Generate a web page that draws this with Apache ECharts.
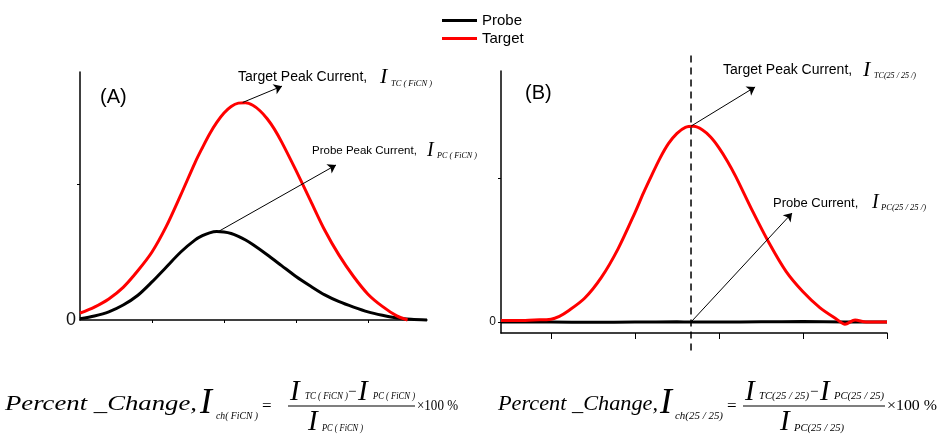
<!DOCTYPE html>
<html>
<head>
<meta charset="utf-8">
<script src="https://cdn.jsdelivr.net/npm/echarts@6/dist/echarts.min.js"></script>
<style>
  html, body { margin: 0; padding: 0; background: #fff; }
  #chart { width: 946px; height: 436px; }
</style>
</head>
<body>
<div id="chart"></div>
<script>
// ---- Panel (A): FiCN sweep, probe vs target current ----
const aTargetX = [0, 0.2, 0.4, 0.6, 0.8, 1.0, 1.2, 1.4, 1.6, 1.7, 1.8, 1.9, 2.0, 2.1, 2.2, 2.3, 2.4, 2.5, 2.6, 2.7, 2.8, 3.0, 3.2, 3.4, 3.6, 3.8, 4.0, 4.2, 4.4, 4.55];
const aTargetY = [0.05, 0.095, 0.155, 0.24, 0.36, 0.50, 0.69, 0.92, 1.16, 1.267, 1.368, 1.453, 1.522, 1.570, 1.595, 1.598, 1.579, 1.539, 1.48, 1.404, 1.31, 1.10, 0.88, 0.66, 0.475, 0.32, 0.19, 0.10, 0.03, 0];
const aProbeX = [0, 0.2, 0.4, 0.6, 0.8, 1.0, 1.2, 1.4, 1.6, 1.7, 1.8, 1.9, 2.0, 2.1, 2.2, 2.3, 2.4, 2.6, 2.8, 3.0, 3.2, 3.4, 3.6, 3.8, 4.0, 4.2, 4.4, 4.6, 4.82];
const aProbeY = [0.01, 0.03, 0.06, 0.11, 0.18, 0.28, 0.39, 0.50, 0.589, 0.620, 0.641, 0.650, 0.647, 0.636, 0.615, 0.588, 0.555, 0.48, 0.40, 0.32, 0.25, 0.185, 0.135, 0.095, 0.06, 0.035, 0.015, 0.005, 0];

// ---- Panel (B): 25/25 sweep ----
const bTargetX = [0.405, 0.6, 0.8, 1.0, 1.1, 1.2, 1.4, 1.6, 1.8, 2.0, 2.1, 2.2, 2.3, 2.4, 2.5, 2.6, 2.7, 2.8, 2.9, 3.0, 3.1, 3.2, 3.4, 3.6, 3.8, 4.0, 4.2, 4.4, 4.5, 4.62, 4.75, 5.0];
const bTargetY = [0.01, 0.01, 0.015, 0.02, 0.04, 0.075, 0.165, 0.31, 0.51, 0.76, 0.895, 1.02, 1.14, 1.24, 1.31, 1.352, 1.359, 1.335, 1.285, 1.21, 1.117, 1.01, 0.77, 0.545, 0.35, 0.21, 0.10, 0.02, -0.015, 0.015, 0.0, 0.0];
const bProbeX = [0.405, 1.0, 1.5, 2.0, 2.5, 2.667, 3.0, 3.5, 4.0, 4.5, 5.0];
const bProbeY = [0.0, 0.0, -0.002, 0.0, 0.002, 0.0, 0.0, 0.002, 0.003, 0.0, 0.0];

// Tick positions and labels
const aXTicks = [1, 2, 3, 4];
const aYTicks = [1];
const bXTicks = [1, 2, 3, 4, 5];
const bYTicks = [0, 1];
const yLabels = [0];

const SANS = '"Liberation Sans", Arial, sans-serif';
const SERIF = '"Liberation Serif", "Times New Roman", serif';
const RED = '#ff0000';
const BLACK = '#000000';

const chart = echarts.init(document.getElementById('chart'), null, { renderer: 'canvas' });

function curve(name, xs, ys, color, idx, markLine, z) {
  return {
    type: 'line', name: name, xAxisIndex: idx, yAxisIndex: idx,
    data: xs.map((x, i) => [x, ys[i]]),
    symbol: 'none', smooth: 0.3, clip: false, z: z,
    lineStyle: { color: color, width: 3 }, itemStyle: { color: color },
    emphasis: { disabled: true }, silent: true, animation: false,
    markLine: markLine
  };
}

function arrow(from, to) {
  return {
    silent: true, animation: false,
    symbol: ['none', 'arrow'], symbolSize: 8,
    lineStyle: { color: BLACK, width: 1, type: 'solid' },
    label: { show: false }, emphasis: { disabled: true },
    data: [[{ coord: from }, { coord: to }]]
  };
}

function axisX(idx, min, max, ticks, tickLen) {
  return {
    gridIndex: idx, type: 'value', min: min, max: max,
    axisLine: { show: true, onZero: false, lineStyle: { color: BLACK, width: 1.5 } },
    axisTick: { show: true, customValues: ticks, length: tickLen, lineStyle: { color: BLACK, width: 1 } },
    axisLabel: { show: false }, splitLine: { show: false }
  };
}

function axisY(idx, min, max, ticks, labelSize, margin) {
  return {
    gridIndex: idx, type: 'value', min: min, max: max,
    axisLine: { show: true, onZero: false, lineStyle: { color: BLACK, width: 1.5 } },
    axisTick: { show: true, customValues: ticks, length: 3, lineStyle: { color: BLACK, width: 1 } },
    axisLabel: { show: true, customValues: yLabels, fontSize: labelSize, color: '#111', fontFamily: SANS, margin: margin },
    splitLine: { show: false }
  };
}

const aPeakT = [2.26, 1.60], aPeakP = [1.92, 0.65];
const bPeakT = [2.667, 1.36], bProbeAt = [2.667, 0];

chart.setOption({
  animation: false,
  textStyle: { fontFamily: SANS },
  legend: {
    data: ['Probe', 'Target'], orient: 'vertical', left: 437, top: 8,
    icon: 'rect', itemWidth: 35, itemHeight: 3, itemGap: 3,
    textStyle: { fontSize: 15, color: BLACK, fontFamily: SANS },
    selectedMode: false
  },
  grid: [
    { left: 80, top: 72, width: 347, height: 248 },
    { left: 501, top: 71, width: 386, height: 262 }
  ],
  xAxis: [
    axisX(0, 0, 4.82, aXTicks, 3),
    axisX(1, 0.405, 5.0, bXTicks, 6)
  ],
  yAxis: [
    axisY(0, 0, 1.824, aYTicks, 18, 4),
    axisY(1, -0.076, 1.743, bYTicks, 12, 5)
  ],
  series: [
    curve('Probe', aProbeX, aProbeY, BLACK, 0, arrow(aPeakP, [3.556, 1.14]), 2),
    curve('Target', aTargetX, aTargetY, RED, 0, arrow(aPeakT, [2.806, 1.72]), 3),
    curve('Probe', bProbeX, bProbeY, BLACK, 1, arrow(bProbeAt, [3.87, 0.757]), 2),
    curve('Target', bTargetX, bTargetY, RED, 1, arrow(bPeakT, [3.43, 1.632]), 3)
  ]
});

// ---- Text annotations and formulas ----
const ctx = document.createElement('canvas').getContext('2d');
function txt(text, x, y, size, o) {
  o = o || {};
  const fam = o.family || SERIF;
  const font = (o.italic === false ? 'normal ' : 'italic ') + size + 'px ' + fam;
  let sx = 1;
  if (o.width) { ctx.font = font; sx = o.width / ctx.measureText(text).width; }
  return {
    type: 'text', x: x, y: y, scaleX: sx, silent: true, z: 20,
    style: { text: text, x: 0, y: 0, font: font, fill: BLACK,
             align: 'left', verticalAlign: 'middle', textAlign: 'left', textVerticalAlign: 'middle' }
  };
}
function sans(text, x, y, size) { return txt(text, x, y, size, { family: SANS, italic: false }); }
function hline(x1, x2, y, w) {
  return { type: 'line', silent: true, z: 20, shape: { x1: x1, y1: y, x2: x2, y2: y }, style: { stroke: BLACK, lineWidth: w } };
}

const bx = chart.convertToPixel({ xAxisIndex: 1 }, bPeakT[0]);
const yTop = chart.convertToPixel({ yAxisIndex: 1 }, 1.85);
const yBot = chart.convertToPixel({ yAxisIndex: 1 }, -0.21);

const g = [
  // peak position guide in (B)
  { type: 'line', silent: true, z: 5, shape: { x1: bx, y1: yTop, x2: bx, y2: yBot },
    style: { stroke: BLACK, lineWidth: 1.5, lineDash: [7, 5] } },

  sans('(A)', 100, 97, 20),
  sans('(B)', 525, 93, 20),

  sans('Target Peak Current,', 238, 77, 14),
  txt('I', 380, 77, 22),
  txt('TC ( FiCN )', 391, 84, 8.5, { width: 41 }),

  sans('Probe Peak Current,', 312, 151, 11.5),
  txt('I', 427, 151, 20),
  txt('PC ( FiCN )', 437, 156, 8.5, { width: 40 }),

  sans('Target Peak Current,', 723, 70, 14),
  txt('I', 863, 70, 22),
  txt('TC(25 / 25 /)', 874, 76, 9, { width: 42 }),

  sans('Probe Current,', 773, 203, 13),
  txt('I', 872, 203, 20),
  txt('PC(25 / 25 /)', 881, 208, 9, { width: 45 }),

  // Formula (A)
  txt('Percent _Change,', 5, 404, 22, { width: 192 }),
  txt('I', 200, 404, 36),
  txt('ch( FiCN )', 216, 416, 10, { width: 42 }),
  txt('=', 262, 407, 17, { italic: false }),
  txt('I', 290, 392, 29),
  txt('TC ( FiCN )', 305, 396, 10, { width: 43 }),
  txt('\u2212', 348, 392, 15, { italic: false }),
  txt('I', 358, 392, 29),
  txt('PC ( FiCN )', 373, 396, 10, { width: 42 }),
  hline(288, 415, 406, 1.2),
  txt('I', 308, 422, 29),
  txt('PC ( FiCN )', 322, 428, 10, { width: 41 }),
  txt('\u00d7100 %', 417, 406, 14, { italic: false, width: 41 }),

  // Formula (B)
  txt('Percent _Change,', 498, 404, 22, { width: 160 }),
  txt('I', 660, 404, 36),
  txt('ch(25 / 25)', 675, 416, 10, { width: 48 }),
  txt('=', 727, 407, 17, { italic: false }),
  txt('I', 745, 392, 29),
  txt('TC(25 / 25)', 759, 396, 10, { width: 50 }),
  txt('\u2212', 810, 392, 15, { italic: false }),
  txt('I', 820, 392, 29),
  txt('PC(25 / 25)', 834, 396, 10, { width: 50 }),
  hline(743, 885, 406, 1.2),
  txt('I', 780, 422, 29),
  txt('PC(25 / 25)', 794, 428, 10, { width: 50 }),
  txt('\u00d7100 %', 887, 406, 14, { italic: false, width: 50 })
];

chart.setOption({ graphic: { elements: g } });
</script>
</body>
</html>
